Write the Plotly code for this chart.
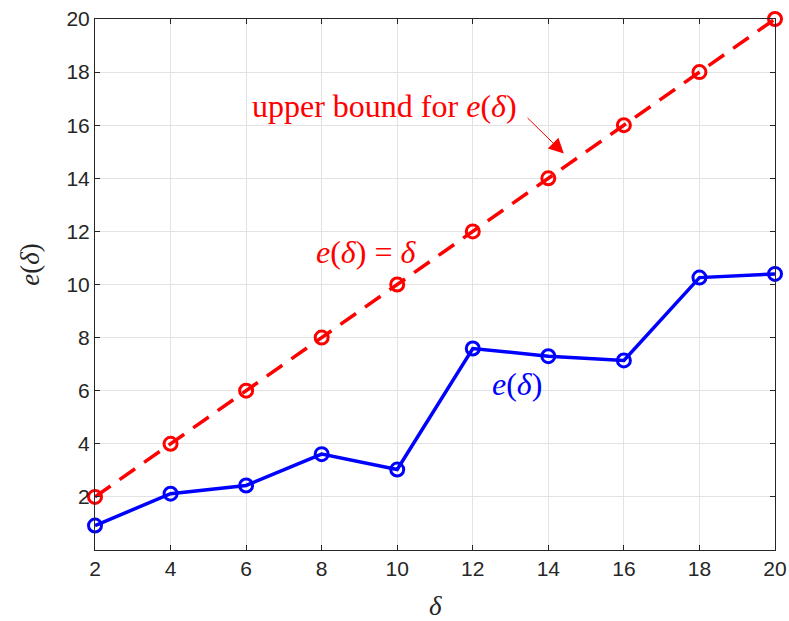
import plotly.graph_objects as go

delta = [2, 4, 6, 8, 10, 12, 14, 16, 18, 20]
e_delta = [0.92, 2.12, 2.43, 3.61, 3.03, 7.59, 7.30, 7.14, 10.26, 10.40]
upper = [2, 4, 6, 8, 10, 12, 14, 16, 18, 20]
xticks = [2, 4, 6, 8, 10, 12, 14, 16, 18, 20]
yticks = [2, 4, 6, 8, 10, 12, 14, 16, 18, 20]

SERIF = "Liberation Serif, DejaVu Serif, serif"
SANS = "Liberation Sans, Arial, sans-serif"
AX = "#262626"

fig = go.Figure()
fig.add_trace(go.Scatter(
    x=delta, y=upper, mode="lines+markers",
    line=dict(color="#ff0000", width=3.5, dash="19px,11px"),
    marker=dict(symbol="circle-open", size=13, color="#ff0000", line=dict(width=3, color="#ff0000")),
    showlegend=False, cliponaxis=False))
fig.add_trace(go.Scatter(
    x=delta, y=e_delta, mode="lines+markers",
    line=dict(color="#0000ff", width=3.5),
    marker=dict(symbol="circle-open", size=13, color="#0000ff", line=dict(width=3, color="#0000ff")),
    showlegend=False, cliponaxis=False))

fig.add_annotation(x=14.41, y=14.93, ax=13.41, ay=16.33, xref="x", yref="y", axref="x", ayref="y",
                   text="", showarrow=True, arrowhead=2, arrowsize=3, arrowwidth=1, arrowcolor="#ff0000")
fig.add_annotation(x=9.65, y=16.74, xref="x", yref="y", showarrow=False,
                   text="upper bound for <i>e</i>(<i>δ</i>)", font=dict(family=SERIF, size=32, color="#ff0000"))
fig.add_annotation(x=9.17, y=11.24, xref="x", yref="y", showarrow=False,
                   text="<i>e</i>(<i>δ</i>) = <i>δ</i>", font=dict(family=SERIF, size=32, color="#ff0000"))
fig.add_annotation(x=13.17, y=6.27, xref="x", yref="y", showarrow=False,
                   text="<i>e</i>(<i>δ</i>)", font=dict(family=SERIF, size=32, color="#0000ff"))

# axis titles
fig.add_annotation(x=0.5, y=0, xref="paper", yref="paper", yshift=-56, showarrow=False,
                   xanchor="center", yanchor="middle",
                   text="<i>δ</i>", font=dict(family=SERIF, size=27, color=AX))
fig.add_annotation(x=0, y=0.537, xref="paper", yref="paper", xshift=-65, showarrow=False,
                   xanchor="center", yanchor="middle",
                   textangle=-90, text="<i>e</i>(<i>δ</i>)", font=dict(family=SERIF, size=27, color=AX))

fig.update_layout(
    width=789, height=621,
    margin=dict(l=95, r=14, t=19, b=71, autoexpand=False),
    paper_bgcolor="white", plot_bgcolor="white",
    font=dict(family=SANS, size=21, color=AX),
)
fig.update_xaxes(
    range=[2, 20], tickvals=xticks, ticks="inside", ticklen=5, tickcolor=AX,
    showline=True, linecolor=AX, linewidth=1, mirror="ticks",
    showgrid=True, gridcolor="#e3e3e3", gridwidth=1, zeroline=False,
    tickfont=dict(family=SANS, size=21, color=AX),
)
fig.update_yaxes(
    range=[0, 20], tickvals=yticks, ticks="inside", ticklen=5, tickcolor=AX,
    showline=True, linecolor=AX, linewidth=1, mirror="ticks",
    showgrid=True, gridcolor="#e3e3e3", gridwidth=1, zeroline=False,
    tickfont=dict(family=SANS, size=21, color=AX),
)

fig.write_html("out.html", config={"displayModeBar": False},
               post_script="document.body.style.margin='0';document.body.style.overflow='hidden';")
